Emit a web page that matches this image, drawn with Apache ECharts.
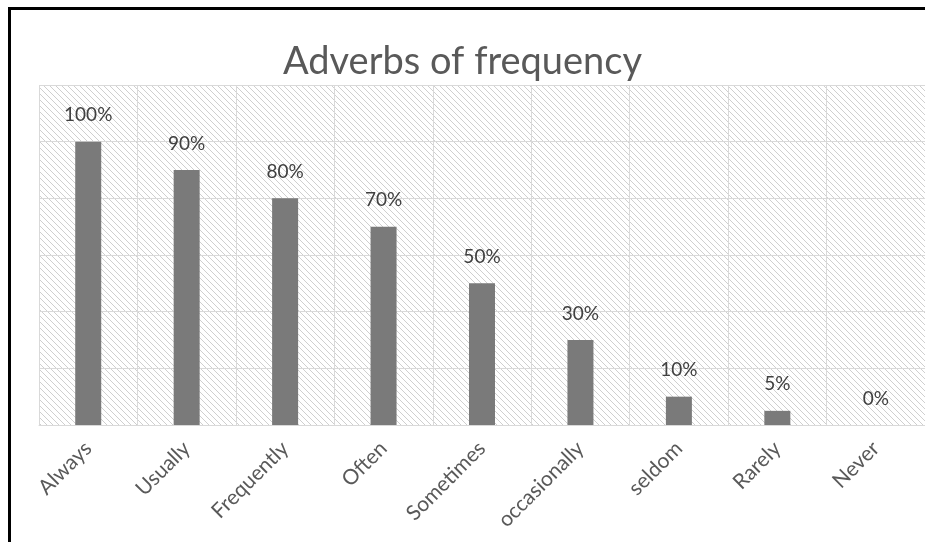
<!DOCTYPE html>
<html>
<head>
<meta charset="utf-8">
<script src="https://cdn.jsdelivr.net/npm/echarts@6/dist/echarts.min.js"></script>
<style>
  html, body { margin: 0; padding: 0; background: #fff; overflow: hidden; }
  #chart { width: 925px; height: 542px; }
</style>
</head>
<body>
<div id="chart"></div>
<script>
// chart data
var categories = ["Always", "Usually", "Frequently", "Often", "Sometimes", "occasionally", "seldom", "Rarely", "Never"];
var values = [100, 90, 80, 70, 50, 30, 10, 5, 0];
var yTicks = [0, 20, 40, 60, 80, 100, 120];

// diagonal hatch for the plot background
function makeHatch() {
  var c = document.createElement("canvas");
  c.width = 6;
  c.height = 6;
  var ctx = c.getContext("2d");
  ctx.strokeStyle = "#cfcfcf";
  ctx.lineWidth = 1;
  ctx.beginPath();
  ctx.moveTo(-1, -1); ctx.lineTo(7, 7);
  ctx.moveTo(-1, 5); ctx.lineTo(1, 7);
  ctx.moveTo(5, -1); ctx.lineTo(7, 1);
  ctx.stroke();
  return c;
}

var chart = echarts.init(document.getElementById("chart"));
chart.setOption({
  animation: false,
  title: {
    text: "Adverbs of frequency",
    left: "center",
    top: 38,
    textStyle: {
      fontFamily: "Lato",
      fontSize: 38,
      fontWeight: "normal",
      color: "#595959"
    }
  },
  grid: {
    left: 39,
    right: 0,
    top: 85,
    bottom: 117,
    show: true,
    borderWidth: 0,
    backgroundColor: { image: makeHatch(), repeat: "repeat" }
  },
  xAxis: {
    type: "category",
    data: categories,
    axisLine: { lineStyle: { color: "#d9d9d9", width: 1 } },
    axisTick: { show: false },
    splitLine: { show: true, lineStyle: { color: "#d9d9d9", width: 1 } },
    axisLabel: {
      rotate: 45,
      margin: 20,
      interval: 0,
      fontFamily: "Lato",
      fontSize: 21,
      color: "#595959"
    }
  },
  yAxis: {
    type: "value",
    min: yTicks[0],
    max: yTicks[yTicks.length - 1],
    interval: 20,
    axisLabel: { show: false },
    axisLine: { show: false },
    axisTick: { show: false },
    splitLine: { show: true, lineStyle: { color: "#d9d9d9", width: 1 } }
  },
  series: [
    {
      type: "bar",
      data: values,
      barWidth: 26,
      itemStyle: { color: "#7a7a7a" },
      label: {
        show: true,
        position: "top",
        distance: 17,
        formatter: "{c}%",
        fontFamily: "Lato",
        fontSize: 19,
        color: "#404040"
      }
    }
  ],
  graphic: [
    {
      type: "polyline",
      shape: { points: [[9.5, 560], [9.5, 8.5], [940, 8.5]] },
      style: { fill: null, stroke: "#000", lineWidth: 3 },
      silent: true
    }
  ]
});
</script>
</body>
</html>
